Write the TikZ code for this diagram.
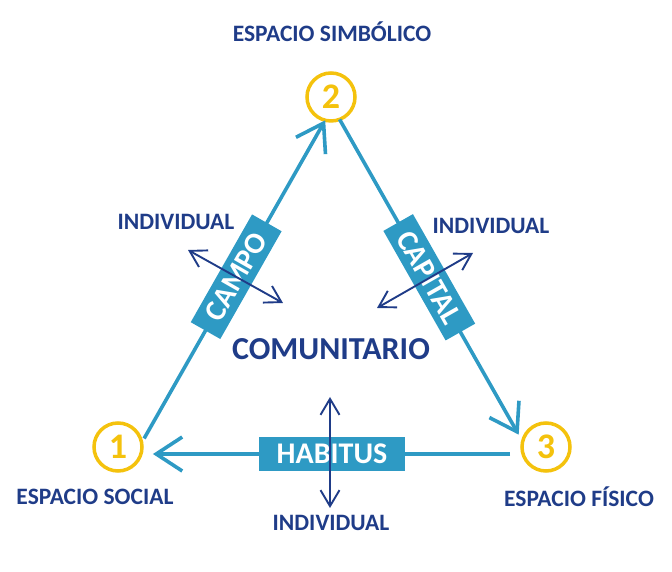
\documentclass[tikz,border=0pt]{standalone}
\usepackage{fontspec}
\setmainfont{Carlito}
\usetikzlibrary{arrows.meta}
\definecolor{lineblue}{RGB}{46,154,196}
\definecolor{textblue}{RGB}{31,60,136}
\definecolor{gold}{RGB}{244,194,13}

\begin{document}
\begin{tikzpicture}[x=1pt,y=1pt,
		num/.style={circle,draw=gold,line width=3.5pt,minimum size=48pt,inner sep=0pt,outer sep=0pt,text=gold,font=\fontsize{36}{36}\selectfont\bfseries},
		lbl/.style={text=textblue,inner sep=0pt,font=\fontsize{23.5}{27}\selectfont\bfseries},
		tag/.style={fill=lineblue,text=white,inner sep=0pt,minimum height=34pt,font=\fontsize{30}{32}\selectfont\bfseries},
		side/.style={draw=lineblue,line width=3.6pt,-{Straight Barb[length=26pt,width=34pt]}},
		both/.style={draw=textblue,line width=1.9pt,{Straight Barb[length=16pt,width=19pt]}-{Straight Barb[length=16pt,width=19pt]}}]
	\useasboundingbox (0,0) rectangle (672,572);
	
	\node[num] (n1) at (118,125) {1};
	\node[num] (n2) at (331,475) {2};
	\node[num] (n3) at (546,125) {3};
	
	\node[lbl] (sym) at (332,540) {ESPACIO SIMBÓLICO};
	\node[lbl] (soc) at (95,75) {ESPACIO SOCIAL};
	\node[lbl] (fis) at (579,75) {ESPACIO FÍSICO};
	\node[lbl,font=\fontsize{32}{35}\selectfont\bfseries] (com) at (331,223) {COMUNITARIO};
	\node[lbl] (indl) at (176,350) {INDIVIDUAL};
	\node[lbl] (indr) at (491,346) {INDIVIDUAL};
	\node[lbl] (indb) at (331,49) {INDIVIDUAL};
	
	\draw[side,shorten <=5pt] (n1.10) -- (n2.256)
		node[tag,sloped,pos=0.515,minimum width=124pt] (campo) {CAMPO};
	\draw[side,shorten >=8pt] (n2.291) -- (n3.167)
		node[tag,sloped,pos=0.49,minimum width=126pt] (capital) {CAPITAL};
	\draw[side,shorten <=13pt,shorten >=12pt] (n3.197) -- (n1.343)
		node[tag,pos=0.5,minimum width=146pt] (habitus) {HABITUS};
	
	\coordinate (la) at (188,322);
	\coordinate (lb) at (283,269);
	\coordinate (ra) at (473,319);
	\coordinate (rb) at (377,264);
	\coordinate (ba) at (330,175);
	\coordinate (bb) at (330,64);
	\draw[both] (la) -- (lb);
	\draw[both] (ra) -- (rb);
	\draw[both] (ba) -- (bb);
\end{tikzpicture}
\end{document}
